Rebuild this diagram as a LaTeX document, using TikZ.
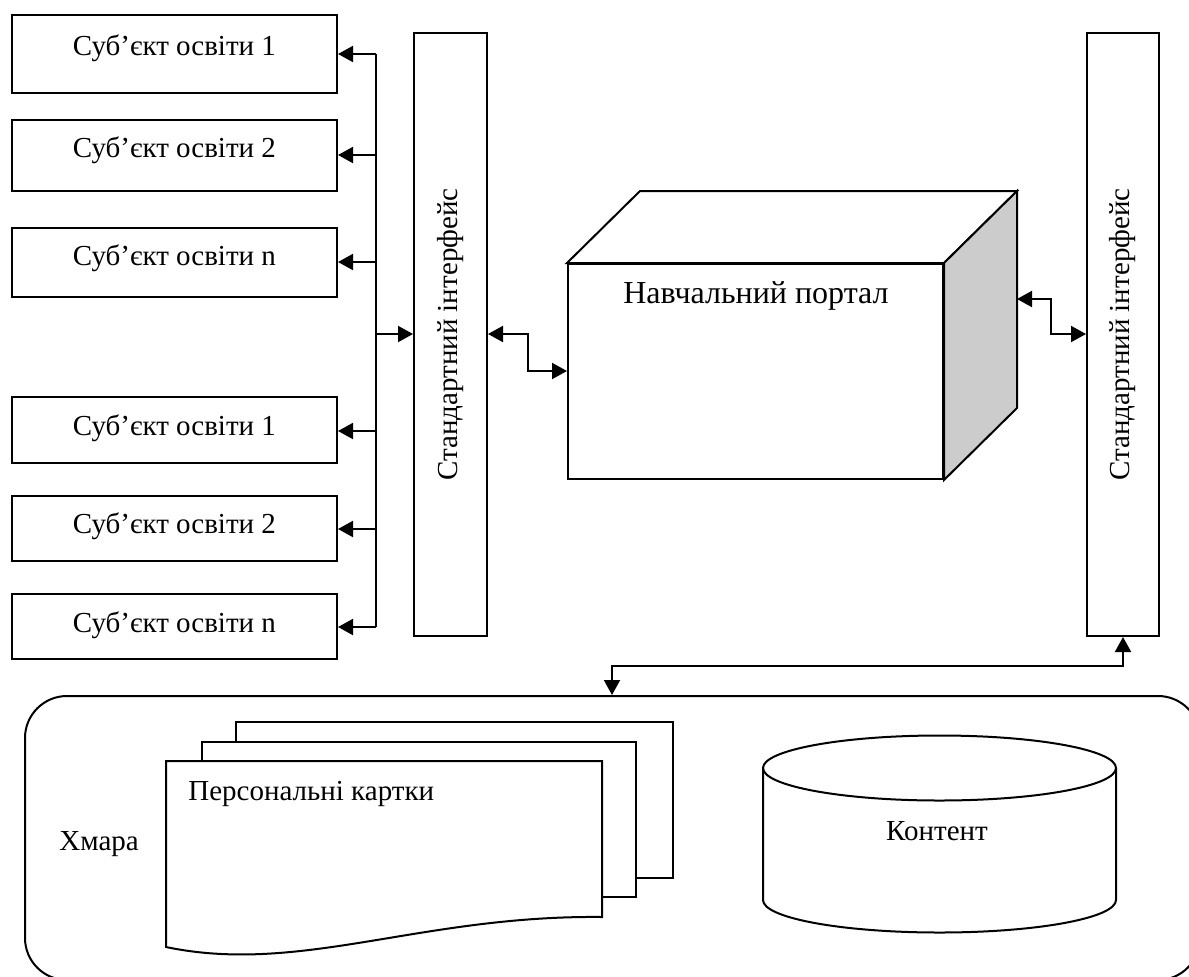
\documentclass[tikz,border=0pt]{standalone}
\usepackage{fontspec}
\setmainfont{Liberation Serif}
\usetikzlibrary{arrows.meta,fit}
\definecolor{sidegray}{HTML}{CCCCCC}
\tikzset{
  box/.style={draw, line width=1pt, inner sep=0pt, fill=white},
  lbl/.style={inner sep=0pt, font=\fontsize{14.5}{17}\selectfont},
  wire/.style={line width=1pt},
  arr/.style={line width=1pt, -{Triangle[length=7.5pt,width=8pt]}},
  arrtwo/.style={line width=1pt, {Triangle[length=7.5pt,width=8pt]}-{Triangle[length=7.5pt,width=8pt]}},
  face/.style={line width=1pt, line join=miter},
}
\begin{document}
\begin{tikzpicture}[x=0.5pt,y=-0.5pt]
\useasboundingbox (0,0) rectangle (1189,976);
\clip (0,0) rectangle (1189,976);

% subject boxes
\node[box, fit={(12,15)(337,93)}] (s1) {};
\node[box, fit={(12,120)(337,191)}] (s2) {};
\node[box, fit={(12,228)(337,297)}] (s3) {};
\node[box, fit={(12,397)(337,463)}] (s4) {};
\node[box, fit={(12,496)(337,561)}] (s5) {};
\node[box, fit={(12,594)(337,659)}] (s6) {};
\node[lbl, anchor=base] at (174.5,55) {Суб’єкт освіти 1};
\node[lbl, anchor=base] at (174.5,157) {Суб’єкт освіти 2};
\node[lbl, anchor=base] at (174.5,265) {Суб’єкт освіти n};
\node[lbl, anchor=base] at (174.5,435) {Суб’єкт освіти 1};
\node[lbl, anchor=base] at (174.5,533) {Суб’єкт освіти 2};
\node[lbl, anchor=base] at (174.5,632) {Суб’єкт освіти n};

% interfaces
\node[box, fit={(414,33)(487,636)}] (lif) {};
\node[lbl, rotate=90] at (lif.center) {Стандартний інтерфейс};
\node[box, fit={(1087,33)(1159,636)}] (rif) {};
\node[lbl, rotate=90] at (rif.center) {Стандартний інтерфейс};

% bus
\coordinate (b1) at (376,54);
\coordinate (b2) at (376,155);
\coordinate (b3) at (376,262);
\coordinate (b4) at (376,431);
\coordinate (b5) at (376,529);
\coordinate (b6) at (376,627);
\coordinate (bi) at (376,334);
\draw[wire] (b1) -- (b6);
\draw[arr] (b1) -- (s1.east |- b1);
\draw[arr] (b2) -- (s2.east |- b2);
\draw[arr] (b3) -- (s3.east |- b3);
\draw[arr] (b4) -- (s4.east |- b4);
\draw[arr] (b5) -- (s5.east |- b5);
\draw[arr] (b6) -- (s6.east |- b6);
\draw[arr] (bi) -- (lif.west |- bi);

% portal cube
\node[box, fit={(568,264)(943,479)}] (portal) {};
\coordinate (pnw) at ([shift={(73,-72)}]portal.north west);
\coordinate (pne) at ([shift={(73,-72)}]portal.north east);
\coordinate (pse) at ([shift={(73,-72)}]portal.south east);
\draw[face, fill=white] (portal.north west) -- (pnw) -- (pne) -- (portal.north east) -- cycle;
\draw[face, fill=sidegray] (portal.north east) -- (pne) -- (pse) -- (portal.south east) -- cycle;
\node[lbl, anchor=base, font=\fontsize{16}{19}\selectfont] at (756,303) {Навчальний портал};

% connectors to portal
\coordinate (k1) at (528,334);
\coordinate (k2) at (528,371);
\draw[arrtwo] (lif.east |- k1) -- (k1) -- (k2) -- (portal.west |- k2);
\coordinate (k3) at (1051,299);
\coordinate (k4) at (1051,334);
\draw[arrtwo] (pne |- k3) -- (k3) -- (k4) -- (rif.west |- k4);

% cloud
\node[draw, line width=1pt, inner sep=0pt, rounded corners=21pt, fit={(25,696)(1200,980)}] (cloud) {};
\node[lbl, anchor=base west] at (59,850) {Хмара};

\coordinate (k5) at (1123,666);
\coordinate (k6) at (612,666);
\draw[arrtwo] (rif.south) -- (k5) -- (k6) -- (k6 |- cloud.north);

% document stack
\draw[line width=1pt, fill=white] (236,722) rectangle (673,878);
\draw[line width=1pt, fill=white] (202,742) rectangle (636,897);
\draw[line width=1pt, fill=white, line join=miter]
  (166,947) -- (166,761) -- (602,761) -- (602,917)
  .. controls (420,915) and (300,975) .. (166,947) -- cycle;
\node[lbl, anchor=base west] at (188,800) {Персональні картки};

% content cylinder
\draw[line width=1pt, fill=white]
  (763,768) -- (763,900)
  .. controls (763,918) and (842,932.5) .. (939.5,932.5)
  .. controls (1037,932.5) and (1116,918) .. (1116,900)
  -- (1116,768);
\draw[line width=1pt] (939.5,768) ellipse [x radius=88.25pt, y radius=16.25pt];
\node[lbl, anchor=base] at (937,840) {Контент};
\end{tikzpicture}
\end{document}
